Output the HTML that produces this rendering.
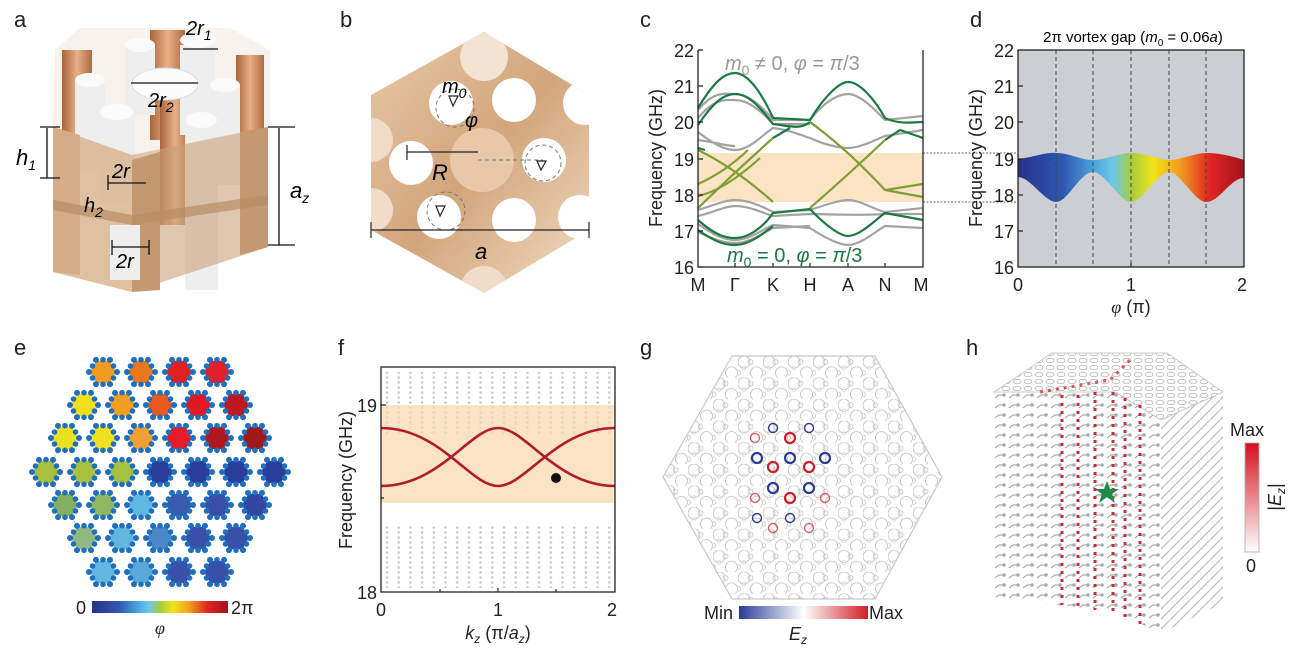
<!DOCTYPE html>
<html><head><meta charset="utf-8"><style>
html,body{margin:0;padding:0;background:#fff;}
svg{display:block;font-family:"Liberation Sans",sans-serif;}
.pl{font-size:22px;fill:#222}
.tk{font-size:18px;fill:#222}
.it{font-style:italic}
</style></head><body>
<svg width="1294" height="652" viewBox="0 0 1294 652" xmlns="http://www.w3.org/2000/svg">
<defs>
<linearGradient id="rb" x1="0" x2="1" y1="0" y2="0">
<stop offset="0" stop-color="#26318a"/><stop offset="0.2" stop-color="#2f58b0"/><stop offset="0.33" stop-color="#4aa0dc"/><stop offset="0.42" stop-color="#6cc8e8"/><stop offset="0.5" stop-color="#a8cc40"/><stop offset="0.6" stop-color="#f0e418"/><stop offset="0.72" stop-color="#f29a20"/><stop offset="0.85" stop-color="#e02422"/><stop offset="1" stop-color="#a0141c"/>
</linearGradient>
<linearGradient id="bwr" x1="0" x2="1"><stop offset="0" stop-color="#2a3c96"/><stop offset="0.5" stop-color="#fff"/><stop offset="1" stop-color="#d21e24"/></linearGradient>
<linearGradient id="wr" x1="0" x2="0" y1="1" y2="0"><stop offset="0" stop-color="#fff"/><stop offset="1" stop-color="#d4101c"/></linearGradient>
<linearGradient id="tan" x1="0" x2="1" y1="0" y2="1"><stop offset="0" stop-color="#e8c9a8"/><stop offset="0.5" stop-color="#d2a57c"/><stop offset="1" stop-color="#f2dcc4"/></linearGradient>
<linearGradient id="cop" x1="0" x2="1"><stop offset="0" stop-color="#a9643a"/><stop offset="0.5" stop-color="#e8b08a"/><stop offset="1" stop-color="#b06a40"/></linearGradient>
<pattern id="fd" width="11.7" height="5" patternUnits="userSpaceOnUse" x="384" y="0"><circle cx="3" cy="2.5" r="1.3" fill="#c8c8c8"/></pattern>
<pattern id="gc" width="25" height="21.6" patternUnits="userSpaceOnUse" x="663" y="356"><circle cx="6" cy="6" r="6" fill="none" stroke="#bbb" stroke-width="0.8"/><circle cx="18.5" cy="16.8" r="6" fill="none" stroke="#bbb" stroke-width="0.8"/><circle cx="12.5" cy="6" r="2.5" fill="none" stroke="#bbb" stroke-width="0.7"/><circle cx="0" cy="16.8" r="2.5" fill="none" stroke="#bbb" stroke-width="0.7"/><circle cx="6" cy="12" r="2" fill="none" stroke="#ccc" stroke-width="0.6"/></pattern>
<pattern id="hf" width="14" height="10" patternUnits="userSpaceOnUse"><path d="M1,8 L5,5 L10,5" stroke="#999" stroke-width="1" fill="none"/><circle cx="10" cy="5" r="1.8" fill="#aaa"/></pattern>
<pattern id="ht" width="11" height="7" patternUnits="userSpaceOnUse"><ellipse cx="5" cy="3.5" rx="4" ry="2.2" fill="none" stroke="#aaa" stroke-width="0.7"/></pattern>
<pattern id="hd" width="10" height="10" patternUnits="userSpaceOnUse"><path d="M0,10 L10,0" stroke="#bbb" stroke-width="1.2"/></pattern>
<g id="cl"><polygon points="13,0 6.5,11.3 -6.5,11.3 -13,0 -6.5,-11.3 6.5,-11.3" fill="currentColor"/>
<g fill="#1f6fbf"><circle cx="14" cy="0" r="3"/><circle cx="7" cy="12.1" r="3"/><circle cx="-7" cy="12.1" r="3"/><circle cx="-14" cy="0" r="3"/><circle cx="-7" cy="-12.1" r="3"/><circle cx="7" cy="-12.1" r="3"/><circle cx="10.5" cy="6" r="2.8"/><circle cx="0" cy="12.3" r="2.8"/><circle cx="-10.5" cy="6" r="2.8"/><circle cx="-10.5" cy="-6" r="2.8"/><circle cx="0" cy="-12.3" r="2.8"/><circle cx="10.5" cy="-6" r="2.8"/></g></g>
</defs>

<!-- ===== a ===== -->
<text x="14" y="27" class="pl">a</text>
<polygon points="55,50 80,28 230,28 270,50 270,127 132,155 53,127" fill="#f8f2ec"/>
<g>
<rect x="62" y="50" width="30" height="85" fill="url(#cop)"/>
<rect x="150" y="30" width="35" height="110" fill="url(#cop)"/>
<rect x="236" y="55" width="28" height="80" fill="url(#cop)"/>
<rect x="160" y="75" width="30" height="150" fill="url(#cop)"/>
<rect x="125" y="45" width="30" height="70" fill="#eee"/><ellipse cx="140" cy="45" rx="15" ry="7" fill="#fafafa"/>
<rect x="180" y="45" width="35" height="90" fill="#eee"/><ellipse cx="198" cy="40" rx="18" ry="8" fill="#fafafa"/>
<rect x="75" y="80" width="30" height="90" fill="#eee"/><ellipse cx="90" cy="80" rx="15" ry="7" fill="#fafafa"/>
<rect x="210" y="85" width="30" height="100" fill="#eee"/><ellipse cx="225" cy="85" rx="15" ry="7" fill="#fafafa"/>
<ellipse cx="165" cy="84" rx="33" ry="16" fill="#fbfbfb" stroke="#ddd"/>
<rect x="100" y="112" width="35" height="90" fill="#eee"/><ellipse cx="117" cy="112" rx="17" ry="8" fill="#fafafa"/>
<rect x="185" y="120" width="33" height="170" fill="#eee"/><ellipse cx="201" cy="120" rx="16" ry="8" fill="#fafafa"/>
</g>
<polygon points="53,127 132,155 132,292 53,272" fill="#d9b692" opacity="0.85"/>
<polygon points="132,155 268,127 268,247 132,292" fill="#caa07a" opacity="0.6"/>
<polygon points="132,160 160,152 160,290 132,292" fill="#c49870"/>
<polygon points="240,132 268,127 268,247 240,255" fill="#c49870"/>
<polygon points="53,127 80,135 80,275 53,272" fill="#d4ac86"/>
<polygon points="53,200 132,215 268,195 268,205 132,225 53,210" fill="#b88d66" opacity="0.7"/>
<rect x="110" y="225" width="30" height="55" fill="#eee"/>
<g stroke="#111" stroke-width="1.3" fill="none">
<path d="M183,49 L218,49 M131,83 L198,83 M47,128 L47,178 M108,183 L146,183 M279,128 L279,245 M112,247 L149,247"/>
<path d="M40,127 L60,127 M40,178 L60,178 M268,127 L295,127 M268,245 L295,245 M108,175 L108,190 M146,175 M149,240 L149,255 M112,240 L112,255"/>
</g>
<text x="186" y="35" font-size="20" class="it">2r<tspan font-size="14" dy="5">1</tspan></text>
<text x="148" y="107" font-size="20" class="it">2r<tspan font-size="14" dy="5">2</tspan></text>
<text x="16" y="165" font-size="22" class="it">h<tspan font-size="14" dy="5">1</tspan></text>
<text x="112" y="178" font-size="20" class="it">2r</text>
<text x="84" y="212" font-size="20" class="it">h<tspan font-size="14" dy="5">2</tspan></text>
<text x="290" y="198" font-size="22" class="it">a<tspan font-size="14" dy="5">z</tspan></text>
<text x="116" y="268" font-size="20" class="it">2r</text>

<!-- ===== b ===== -->
<text x="340" y="27" class="pl">b</text>
<polygon points="484,32 589,95 589,230 484,293 371,230 371,95" fill="url(#tan)"/>
<clipPath id="bh"><polygon points="484,32 589,95 589,230 484,293 371,230 371,95"/></clipPath>
<g clip-path="url(#bh)" fill="#fff">
<circle cx="484" cy="57" r="24" fill="#f3e3d2"/>
<circle cx="451" cy="103" r="22"/><circle cx="514" cy="100" r="22"/><circle cx="585" cy="103" r="22"/>
<circle cx="411" cy="163" r="22"/><circle cx="482" cy="160" r="32" fill="#e8c8a8"/><circle cx="544" cy="160" r="22"/>
<circle cx="439" cy="217" r="22"/><circle cx="514" cy="220" r="22"/><circle cx="580" cy="217" r="22"/>
<circle cx="484" cy="290" r="24" fill="#f0dcc8"/><circle cx="371" cy="140" r="22" fill="#f0dcc8"/><circle cx="371" cy="210" r="22" fill="#f0dcc8"/>
</g>
<g fill="none" stroke="#777" stroke-dasharray="4,3"><circle cx="455" cy="108" r="19"/><circle cx="543" cy="163" r="18"/><circle cx="446" cy="211" r="19"/><path d="M478,160 L543,160"/></g>
<g fill="none" stroke="#222" stroke-width="1.2"><path d="M449,96 L458,96 L453,106Z M537,161 L546,161 L541,170Z M436,206 L445,206 L440,216Z"/>
<path d="M407,152 L478,152 M407,145 L407,160 M371,230 L589,230 M371,222 L371,238 M589,222 L589,238"/></g>
<text x="442" y="93" font-size="20" class="it">m<tspan font-size="14" dy="5">0</tspan></text>
<text x="465" y="127" font-size="20" class="it">φ</text>
<text x="432" y="180" font-size="22" class="it">R</text>
<text x="475" y="259" font-size="22" class="it">a</text>

<!-- ===== c ===== -->
<text x="640" y="27" class="pl">c</text>
<rect x="698" y="153" width="225" height="49" fill="#fbe3c4"/>
<g fill="none" stroke-width="2.2">
<g stroke="#a3a3a3">
<path d="M698,110 C715,90 725,94 735,94 C750,94 765,110 773,120 L810,120 C825,100 840,94 848,94 C860,94 875,110 885,120 L923,116"/>
<path d="M698,118 C715,98 725,100 735,100 C750,100 765,115 773,124 L810,124"/>
<path d="M698,132 C715,145 725,150 735,150 C750,150 762,135 773,128 C790,130 800,135 810,138 C825,145 840,148 848,148 C860,148 875,140 885,136 L923,130"/>
<path d="M698,140 C715,142 725,146 735,146"/>
<path d="M698,210 C715,205 725,200 735,200 C750,200 765,208 773,212 L810,210 C825,205 840,200 848,200 C860,200 875,210 885,212 L923,208"/>
<path d="M698,216 C715,212 725,206 735,206 C750,206 765,214 773,216 L810,214 C830,214 850,216 885,214 L923,214"/>
<path d="M698,224 C715,236 725,240 735,240 C750,240 765,228 773,225 L810,228 C825,238 840,245 848,245 C860,245 875,232 885,226 L923,228"/>
<path d="M698,232 C715,240 725,243 735,243 C750,243 765,232 773,228 L810,226"/>
</g>
<g stroke="#1b7a42">
<path d="M698,108 C715,80 725,73 735,73 C750,73 765,100 773,118 L810,120 C825,95 840,82 848,82 C860,82 875,100 885,118 C900,125 915,122 923,122"/>
<path d="M698,125 C715,100 725,94 735,94 C750,94 762,110 773,124 C790,126 800,130 810,122"/>
<path d="M698,220 C715,235 725,238 735,238 C750,238 765,225 773,213 L810,209 C825,225 840,236 848,236 C860,236 875,220 885,213 L923,220"/>
<path d="M698,230 C715,242 725,245 735,245 C750,245 765,232 773,226"/>
<path d="M698,148 L705,150 M773,138 L790,128 M810,122 L818,128 M885,140 L900,130 L923,138"/>
</g>
<g stroke="#7e9e32">
<path d="M698,150 Q735,168 773,202"/><path d="M698,208 Q735,172 773,138"/>
<path d="M698,184 Q725,172 748,150"/><path d="M698,196 Q725,190 760,158"/>
<path d="M810,122 Q848,150 885,190 L923,197"/><path d="M810,208 Q848,175 885,140"/>
<path d="M885,190 L923,184"/>
</g>
</g>
<path d="M698,50 L698,267 L923,267 L923,50" fill="none" stroke="#222" stroke-width="1.3"/>
<g stroke="#222" stroke-width="1.2"><path d="M698,50h5M698,86h5M698,122h5M698,159h5M698,195h5M698,231h5M698,267h5M735,267v-4M773,267v-4M810,267v-4M848,267v-4M885,267v-4"/></g>
<g class="tk" text-anchor="end"><text x="694" y="57">22</text><text x="694" y="93">21</text><text x="694" y="129">20</text><text x="694" y="166">19</text><text x="694" y="202">18</text><text x="694" y="238">17</text><text x="694" y="274">16</text></g>
<g class="tk" text-anchor="middle"><text x="698" y="291">M</text><text x="735" y="291">Γ</text><text x="773" y="291">K</text><text x="810" y="291">H</text><text x="848" y="291">A</text><text x="885" y="291">N</text><text x="921" y="291">M</text></g>
<text transform="translate(662,158) rotate(-90)" class="tk" text-anchor="middle">Frequency (GHz)</text>
<text x="725" y="70" font-size="20" fill="#999"><tspan class="it">m</tspan><tspan font-size="14" dy="5">0</tspan><tspan dy="-5"> ≠ 0, </tspan><tspan class="it">φ</tspan> = <tspan class="it">π</tspan>/3</text>
<text x="727" y="262" font-size="20" fill="#1b7a42"><tspan class="it">m</tspan><tspan font-size="14" dy="5">0</tspan><tspan dy="-5"> = 0, </tspan><tspan class="it">φ</tspan> = <tspan class="it">π</tspan>/3</text>
<path d="M923,153 L1056,153 M923,202 L1056,202" stroke="#333" stroke-width="0.8" stroke-dasharray="2,1.5"/>

<!-- ===== d ===== -->
<text x="970" y="27" class="pl">d</text>
<rect x="1018" y="50" width="226" height="217" fill="#cbced3"/>
<path d="M1018,159 C1035,157 1045,152 1056,153 C1070,153 1080,160 1093,160 C1105,160 1120,153 1131,153 C1145,153 1160,160 1169,160 C1180,160 1195,153 1206,153 C1220,153 1235,157 1244,160 L1244,178 C1230,178 1220,202 1206,202 C1195,202 1180,172 1169,172 C1158,172 1142,202 1131,202 C1120,202 1105,172 1093,172 C1080,172 1068,202 1056,202 C1045,202 1030,177 1018,177 Z" fill="url(#rb)"/>
<g stroke="#444" stroke-width="1" stroke-dasharray="4,3"><path d="M1056,50V267M1093,50V267M1131,50V267M1169,50V267M1206,50V267"/></g>
<rect x="1018" y="50" width="226" height="217" fill="none" stroke="#222" stroke-width="1.3"/>
<g stroke="#222" stroke-width="1.2"><path d="M1018,86h5M1018,122h5M1018,159h5M1018,195h5M1018,231h5M1131,267v-4"/></g>
<g class="tk" text-anchor="end"><text x="1014" y="57">22</text><text x="1014" y="93">21</text><text x="1014" y="129">20</text><text x="1014" y="166">19</text><text x="1014" y="202">18</text><text x="1014" y="238">17</text><text x="1014" y="274">16</text></g>
<g class="tk" text-anchor="middle"><text x="1018" y="291">0</text><text x="1131" y="291">1</text><text x="1242" y="291">2</text></g>
<text transform="translate(982,158) rotate(-90)" class="tk" text-anchor="middle">Frequency (GHz)</text>
<text x="1131" y="313" class="tk" text-anchor="middle"><tspan class="it" font-family="Liberation Serif">φ</tspan> (π)</text>
<text x="1133" y="42" font-size="15" text-anchor="middle">2π vortex gap (<tspan class="it">m</tspan><tspan font-size="10" dy="4">0</tspan><tspan dy="-4"> = 0.06</tspan><tspan class="it">a</tspan>)</text>

<!-- ===== e ===== -->
<text x="14" y="355" class="pl">e</text>
<g stroke="#bbb" stroke-width="0.6" fill="none"><polygon points="103,372 217,372 274,472 217,572 103,572 46,472"/></g>
<use href="#cl" x="103" y="372" style="color:#f09a20"/><use href="#cl" x="141" y="372" style="color:#e8781e"/><use href="#cl" x="179" y="372" style="color:#e02020"/><use href="#cl" x="217" y="372" style="color:#e0202a"/>
<use href="#cl" x="84" y="405" style="color:#f2e020"/><use href="#cl" x="122" y="405" style="color:#f0a020"/><use href="#cl" x="160" y="405" style="color:#e85a20"/><use href="#cl" x="198" y="405" style="color:#e01a20"/><use href="#cl" x="236" y="405" style="color:#c01820"/>
<use href="#cl" x="65" y="438" style="color:#e8e020"/><use href="#cl" x="103" y="438" style="color:#f0e020"/><use href="#cl" x="141" y="438" style="color:#f0a030"/><use href="#cl" x="179" y="438" style="color:#e81a28"/><use href="#cl" x="217" y="438" style="color:#b01820"/><use href="#cl" x="255" y="438" style="color:#a01818"/>
<use href="#cl" x="46" y="472" style="color:#a8c040"/><use href="#cl" x="84" y="472" style="color:#a8c040"/><use href="#cl" x="122" y="472" style="color:#a8c040"/><use href="#cl" x="160" y="472" style="color:#2a3d9a"/><use href="#cl" x="198" y="472" style="color:#2a3d9a"/><use href="#cl" x="236" y="472" style="color:#2a3d9a"/><use href="#cl" x="274" y="472" style="color:#2a3d9a"/>
<use href="#cl" x="65" y="505" style="color:#80b060"/><use href="#cl" x="103" y="505" style="color:#90b860"/><use href="#cl" x="141" y="505" style="color:#60b8e0"/><use href="#cl" x="179" y="505" style="color:#3a5ab0"/><use href="#cl" x="217" y="505" style="color:#3a4ea8"/><use href="#cl" x="255" y="505" style="color:#3048a0"/>
<use href="#cl" x="84" y="538" style="color:#90b880"/><use href="#cl" x="122" y="538" style="color:#60b8e0"/><use href="#cl" x="160" y="538" style="color:#4a88c8"/><use href="#cl" x="198" y="538" style="color:#3a50a8"/><use href="#cl" x="236" y="538" style="color:#3a50a8"/>
<use href="#cl" x="103" y="572" style="color:#60b8e0"/><use href="#cl" x="141" y="572" style="color:#5aa8d8"/><use href="#cl" x="179" y="572" style="color:#3a50a8"/><use href="#cl" x="217" y="572" style="color:#3a50a8"/>
<rect x="92" y="601" width="136" height="12" fill="url(#rb)"/>
<text x="76" y="614" class="tk">0</text><text x="231" y="614" class="tk">2π</text>
<text x="160" y="634" class="tk it" font-family="Liberation Serif" text-anchor="middle">φ</text>

<!-- ===== f ===== -->
<text x="338" y="355" class="pl">f</text>
<rect x="381" y="372" width="234" height="60" fill="url(#fd)"/>
<rect x="381" y="524" width="234" height="64" fill="url(#fd)"/>
<rect x="381" y="405" width="234" height="98" fill="#fbe3c4"/>
<rect x="381" y="405" width="234" height="30" fill="url(#fd)" opacity="0.5"/>
<g fill="none" stroke="#b01c2e" stroke-width="2.6">
<path d="M381,428 C440,428 470,486 498,486 C526,486 556,428 615,428"/>
<path d="M381,486 C440,486 470,428 498,428 C526,428 556,486 615,486"/>
</g>
<circle cx="556" cy="478" r="5" fill="#111"/>
<rect x="381" y="367" width="234" height="225" fill="none" stroke="#222" stroke-width="1.3"/>
<g stroke="#222" stroke-width="1.2"><path d="M381,405h5M381,498h3M440,592v-3M498,592v-4M556,592v-3"/></g>
<g class="tk" text-anchor="end"><text x="377" y="412">19</text><text x="377" y="599">18</text></g>
<g class="tk" text-anchor="middle"><text x="381" y="616">0</text><text x="498" y="616">1</text><text x="612" y="616">2</text></g>
<text transform="translate(352,480) rotate(-90)" class="tk" text-anchor="middle">Frequency (GHz)</text>
<text x="498" y="639" class="tk" text-anchor="middle"><tspan class="it">k</tspan><tspan font-size="12" dy="4" class="it">z</tspan><tspan dy="-4"> (π/</tspan><tspan class="it">a</tspan><tspan font-size="12" dy="4" class="it">z</tspan><tspan dy="-4">)</tspan></text>

<!-- ===== g ===== -->
<text x="640" y="355" class="pl">g</text>
<clipPath id="gh"><polygon points="732,356 875,356 942,477 875,599 732,599 663,477"/></clipPath>
<rect x="663" y="356" width="279" height="243" fill="url(#gc)" clip-path="url(#gh)"/>
<polygon points="732,356 875,356 942,477 875,599 732,599 663,477" fill="none" stroke="#c8c8c8" stroke-width="1.2"/>
<g fill="none" stroke-width="2.2">
<g stroke="#2a3c96"><circle cx="790" cy="458" r="5"/><circle cx="757" cy="458" r="5"/><circle cx="825" cy="458" r="5"/><circle cx="773" cy="488" r="5"/><circle cx="809" cy="488" r="5"/><circle cx="773" cy="428" r="4.5" stroke-width="1.4"/><circle cx="809" cy="428" r="4.5" stroke-width="1.4"/><circle cx="790" cy="518" r="4.5" stroke-width="1.4"/><circle cx="757" cy="518" r="4.5" stroke-width="1.4"/></g>
<g stroke="#d21e24"><circle cx="773" cy="467" r="5"/><circle cx="809" cy="467" r="5"/><circle cx="790" cy="498" r="5"/><circle cx="790" cy="438" r="5"/><circle cx="755" cy="438" r="4.5" stroke-width="1.4" opacity="0.7"/><circle cx="755" cy="498" r="4.5" stroke-width="1.4" opacity="0.7"/><circle cx="825" cy="498" r="4.5" stroke-width="1.4" opacity="0.7"/><circle cx="773" cy="528" r="4.5" stroke-width="1.4" opacity="0.7"/><circle cx="809" cy="528" r="4.5" stroke-width="1.4" opacity="0.7"/></g>
</g>
<rect x="739" y="606" width="129" height="13" fill="url(#bwr)"/>
<text x="704" y="619" class="tk">Min</text><text x="869" y="619" class="tk">Max</text>
<text x="798" y="640" class="tk" text-anchor="middle"><tspan class="it">E</tspan><tspan class="it" font-size="12" dy="4">z</tspan></text>

<!-- ===== h ===== -->
<text x="966" y="355" class="pl">h</text>
<polygon points="994,392 1052,353 1167,353 1223,392 1161,420 1115,392" fill="url(#ht)" stroke="#ccc"/>
<polygon points="994,392 1115,392 1115,612 994,597" fill="url(#hf)"/>
<polygon points="1115,392 1161,420 1161,633 1115,612" fill="url(#hf)"/>
<polygon points="1161,420 1223,392 1223,603 1161,633" fill="url(#hd)"/>
<g stroke="#d4101c" stroke-width="3" stroke-dasharray="3,5" fill="none" opacity="0.9">
<path d="M1062,395V605M1078,395V607M1095,392V610M1113,392V612M1125,398V618M1140,405V625"/>
</g>
<path d="M1040,392 L1110,380 L1130,360" stroke="#d4101c" stroke-width="3" stroke-dasharray="3,5" fill="none" opacity="0.7"/>
<polygon points="1107,481 1110,489 1119,489 1112,494 1115,503 1107,497 1099,503 1102,494 1095,489 1104,489" fill="#1b8a44"/>
<rect x="1245" y="443" width="14" height="109" fill="url(#wr)" stroke="#aaa" stroke-width="0.8"/>
<text x="1230" y="436" class="tk">Max</text><text x="1246" y="572" class="tk">0</text>
<text transform="translate(1281,497) rotate(-90)" class="tk" text-anchor="middle">|<tspan class="it">E</tspan><tspan class="it" font-size="12" dy="4">z</tspan><tspan dy="-4">|</tspan></text>
</svg>
</body></html>
